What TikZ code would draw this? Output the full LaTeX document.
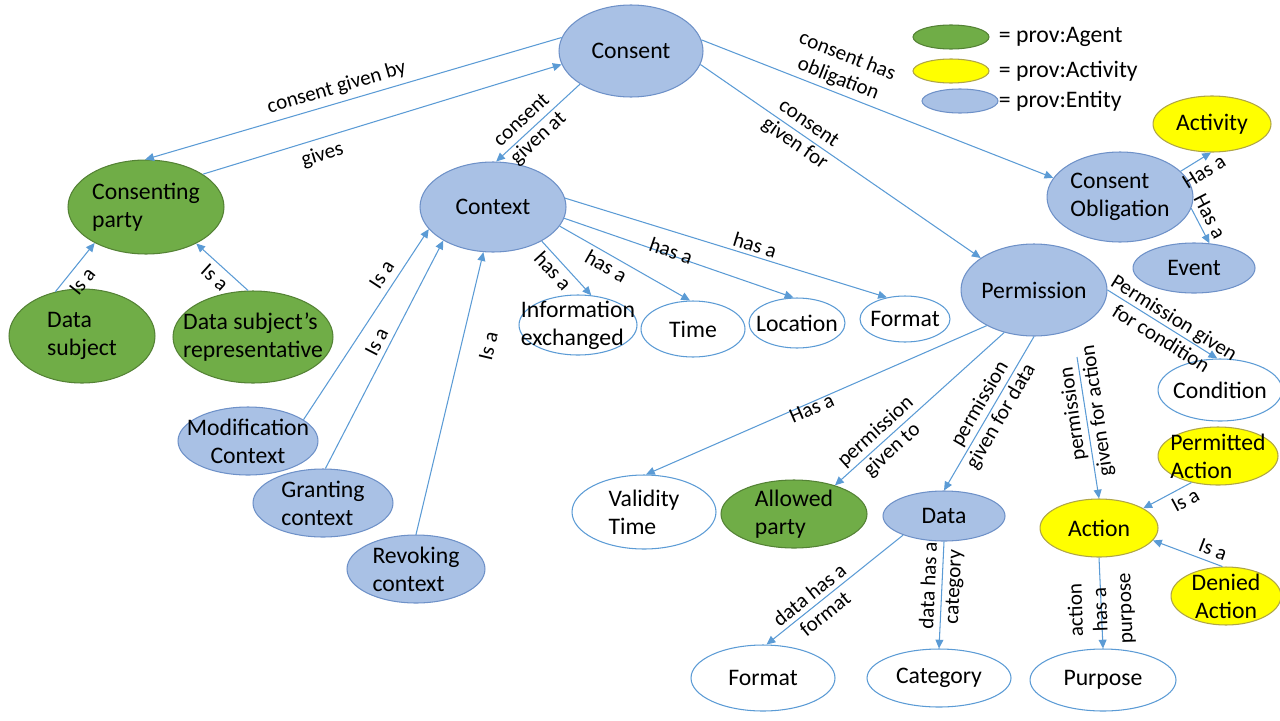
\documentclass[tikz,border=0pt]{standalone}
\usepackage{fontspec}
\setmainfont{Carlito}
\usetikzlibrary{shapes.geometric,arrows.meta,positioning}
\definecolor{agentgreen}{RGB}{112,173,71}
\definecolor{agentline}{RGB}{84,130,53}
\definecolor{actyellow}{RGB}{255,255,0}
\definecolor{actline}{RGB}{175,165,70}
\definecolor{entblue}{RGB}{169,193,229}
\definecolor{entline}{RGB}{110,145,200}
\definecolor{linkblue}{RGB}{91,155,213}

\begin{document}
\begin{tikzpicture}[x=0.02cm,y=-0.02cm,
  blob/.style={ellipse,draw,line width=0.6pt,inner xsep=-3cm,inner ysep=-2cm,
    font=\fontsize{13.5}{16}\selectfont,align=left},
  agentnode/.style={blob,fill=agentgreen,draw=agentline},
  actnode/.style={blob,fill=actyellow,draw=actline},
  entnode/.style={blob,fill=entblue,draw=entline},
  othernode/.style={blob,fill=white,draw=linkblue},
  link/.style={draw=linkblue,line width=0.6pt,-{Triangle[length=5pt,width=4.5pt]}},
  lbl/.style={font=\fontsize{12}{14}\selectfont,inner sep=1pt,sloped,align=center},
  vlbl/.style={font=\fontsize{12}{14}\selectfont,inner sep=1pt,align=center},
  legtext/.style={font=\fontsize{13.5}{16}\selectfont,inner sep=0pt}]
  \useasboundingbox (0,0) rectangle (1280,720);

  % legend
  \node[agentnode,minimum width=1.52cm,minimum height=0.48cm] (lagent) at (951,37) {};
  \node[actnode,minimum width=1.52cm,minimum height=0.48cm] (lact) at (951,71) {};
  \node[entnode,minimum width=1.52cm,minimum height=0.48cm] (lent) at (960,101) {};
  \node[legtext,right=0.18cm of lagent] (tagent) {= prov:Agent};
  \node[legtext,right=0.18cm of lact] (tact) {= prov:Activity};
  \node[legtext,right=0pt of lent] (tent) {= prov:Entity};

  % consent side
  \node[entnode,minimum width=2.88cm,minimum height=1.84cm] (consent) at (631,51) {Consent};
  \node[agentnode,minimum width=3.12cm,minimum height=1.88cm] (cparty) at (146,207) {Consenting\\party};
  \node[agentnode,minimum width=2.92cm,minimum height=1.88cm] (dsubj) at (82,336) {Data\\subject};
  \node[agentnode,minimum width=3.2cm,minimum height=1.84cm] (dsrep) at (253,337) {Data subject’s\\representative};

  % context
  \node[entnode,minimum width=2.92cm,minimum height=1.8cm] (context) at (493,207) {Context};
  \node[entnode,align=center,minimum width=2.8cm,minimum height=1.36cm] (modctx) at (248,441) {Modification\\Context};
  \node[entnode,minimum width=2.8cm,minimum height=1.36cm] (grantctx) at (323,503) {Granting\\context};
  \node[entnode,minimum width=2.76cm,minimum height=1.36cm] (revctx) at (416,569) {Revoking\\context};
  \node[othernode,minimum width=2.36cm,minimum height=1.2cm] (info) at (578,325) {Information\\exchanged};
  \node[othernode,minimum width=2.08cm,minimum height=1.12cm] (time) at (693,329) {Time};
  \node[othernode,minimum width=1.92cm,minimum height=1cm] (location) at (797,323) {Location};
  \node[othernode,minimum width=1.8cm,minimum height=0.92cm] (fmt) at (905,319) {Format};

  % obligation
  \node[entnode,minimum width=2.92cm,minimum height=1.8cm] (cobl) at (1120,197) {Consent\\Obligation};
  \node[actnode,minimum width=2.36cm,minimum height=1.12cm] (activity) at (1212,124) {Activity};
  \node[entnode,minimum width=2.44cm,minimum height=1cm] (event) at (1194,268) {Event};

  % permission
  \node[entnode,minimum width=2.92cm,minimum height=1.84cm] (perm) at (1034,290) {Permission};
  \node[othernode,minimum width=2.48cm,minimum height=1.24cm] (condition) at (1220,390) {Condition};
  \node[othernode,minimum width=2.88cm,minimum height=1.48cm] (validity) at (644,512) {Validity\\Time};
  \node[agentnode,minimum width=2.92cm,minimum height=1.36cm] (allowed) at (794,514) {Allowed\\party};
  \node[entnode,minimum width=2.44cm,minimum height=1cm] (data) at (944,516) {Data};
  \node[othernode,minimum width=2.88cm,minimum height=1.32cm] (dfmt) at (763,678) {Format};
  \node[othernode,minimum width=2.88cm,minimum height=1.16cm] (category) at (939,678) {Category};
  \node[actnode,minimum width=2.4cm,minimum height=1.16cm] (permact) at (1218,456) {Permitted\\Action};
  \node[actnode,minimum width=2.36cm,minimum height=1.16cm] (action) at (1099,528) {Action};
  \node[actnode,align=center,minimum width=2.2cm,minimum height=1.16cm] (deniedact) at (1226,596) {Denied\\Action};
  \node[othernode,minimum width=2.92cm,minimum height=1.24cm] (purpose) at (1103,680) {Purpose};
  \coordinate (pfa) at (1077,357);

  \draw[link] (consent.169) -- node[lbl,above=2pt,pos=.53] {consent given by} (cparty.91);
  \draw[link] (cparty.30) -- node[lbl,below=3pt,pos=.32] {gives} (consent.191);
  \draw[link] (consent.213) -- node[lbl,pos=.59] {consent\\given at} (context.86);
  \draw[link] (consent.9) -- node[lbl,above=1pt,pos=.375] {consent has\\obligation} (cobl.164);
  \draw[link] (consent.349) -- node[lbl,pos=.36] {consent\\given for} (perm.149);

  \draw[link] (context.325) -- node[lbl,below=1pt,pos=.4] {has a} (info.66);
  \draw[link] (context.344) -- node[lbl,below=1pt,pos=.4] {has a} (time.96);
  \draw[link] (context.351) -- node[lbl,above=-3pt,pos=.46] {has a} (location.98);
  \draw[link] (context.7) -- node[lbl,above=1pt,pos=.58] {has a} (fmt.130);

  \draw[link] (dsubj.121) -- node[lbl,below,inner ysep=4pt,pos=.4] {Is a} (cparty.215);
  \draw[link] (dsrep.96) -- node[lbl,below=2pt,pos=.48] {Is a} (cparty.324);
  \draw[link] (modctx.21) -- node[lbl,above,inner ysep=4pt,pos=.72] {Is a} (context.199);
  \draw[link] (grantctx.86) -- node[lbl,above,inner ysep=3pt,pos=.53] {Is a} (context.214);
  \draw[link] (revctx.90) -- node[lbl,below=10pt,pos=.69] {Is a} (context.258);

  \draw[link] (cobl.23) -- node[lbl,below,inner ysep=3pt,pos=.55] {Has a} (activity.268);
  \draw[link] (cobl.351) -- node[lbl,above,inner ysep=3pt,pos=.4] {Has a} (event.58);

  \draw[link] (perm.217) -- node[lbl,below=-2pt,pos=.52] {Has a} (validity.87);
  \draw[link] (perm.235) -- node[lbl,pos=.71] {permission\\given to} (allowed.35);
  \draw[link] (perm.south) -- node[lbl,pos=.48] {permission\\given for data} (data.north);
  \draw[link] (perm.east) -- node[lbl,pos=.55] {Permission given\\for condition} (condition.95);
  \draw[link] (pfa) -- node[vlbl,rotate=98,pos=.39] {permission\\given for action} (action.north);

  \draw[link] (data.205) -- node[lbl,pos=.63] {data has a\\format} (dfmt.84);
  \draw[link] (data.south) -- node[lbl,pos=.42] {data has a\\category} (category.north);
  \draw[link] (action.south) -- node[vlbl,rotate=92,pos=.57] {action\\has a\\purpose} (purpose.north);
  \draw[link] (permact.225) -- node[lbl,below=2pt,pos=.25] {Is a} (action.24);
  \draw[link] (deniedact.97) -- node[lbl,above=2pt,pos=.2] {Is a} (action.347);
\end{tikzpicture}
\end{document}
